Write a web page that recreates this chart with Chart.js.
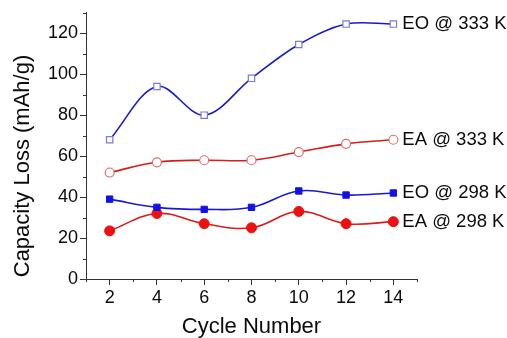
<!DOCTYPE html>
<html>
<head>
<meta charset="utf-8">
<script src="https://cdn.jsdelivr.net/npm/chart.js@4"></script>
<style>
  html, body { margin: 0; padding: 0; background: #fff; }
  #wrap { width: 507px; height: 338px; }
</style>
</head>
<body>
<div id="wrap"><canvas id="lossChart" width="507" height="338"></canvas></div>
<script>
// cycle numbers and capacity loss (mAh/g)
var cycles = [2, 4, 6, 8, 10, 12, 14];
var eo333 = [68, 94, 80, 98, 114.5, 124.5, 124.5];
var ea333 = [52, 57, 58, 58, 62, 66, 68];
var eo298 = [39, 35, 34, 35, 43, 41, 42];
var ea298 = [23.5, 32, 27, 25, 33, 27, 28];
var seriesNames = ['EO @ 333 K', 'EA @ 333 K', 'EO @ 298 K', 'EA @ 298 K'];

var xMajor = [2, 4, 6, 8, 10, 12, 14];
var xMinor = [1, 3, 5, 7, 9, 11, 13, 15];
var yMajor = [0, 20, 40, 60, 80, 100, 120];
var yMinor = [10, 30, 50, 70, 90, 110, 130];

var FONT = "'Liberation Sans', Arial, sans-serif";

function pts(ys) {
  return cycles.map(function (c, i) { return { x: c, y: ys[i] }; });
}

// minor ticks, axis titles and end-of-line labels
var extras = {
  id: 'extras',
  afterDraw: function (chart) {
    var ctx = chart.ctx, xs = chart.scales.x, ys = chart.scales.y, a = chart.chartArea;
    ctx.save();
    ctx.strokeStyle = '#333';
    ctx.lineWidth = 1;
    ctx.beginPath();
    xMinor.forEach(function (v) {
      var px = Math.round(xs.getPixelForValue(v)) + 0.5;
      ctx.moveTo(px, a.bottom); ctx.lineTo(px, a.bottom + 3);
    });
    yMinor.forEach(function (v) {
      var py = Math.round(ys.getPixelForValue(v)) + 0.5;
      ctx.moveTo(a.left, py); ctx.lineTo(a.left - 3, py);
    });
    ctx.stroke();

    ctx.fillStyle = '#0a0a0a';
    ctx.font = '18.5px ' + FONT;
    ctx.textBaseline = 'middle';
    ctx.textAlign = 'left';
    chart.data.datasets.forEach(function (ds, i) {
      var last = ds.data[ds.data.length - 1];
      ctx.fillText(seriesNames[i], xs.getPixelForValue(last.x) + 9, ys.getPixelForValue(last.y));
    });

    ctx.font = '22px ' + FONT;
    ctx.textAlign = 'center';
    ctx.fillText('Cycle Number', (a.left + a.right) / 2, 327);
    ctx.translate(23, 166);
    ctx.rotate(-Math.PI / 2);
    ctx.fillText('Capacity Loss (mAh/g)', 0, 0);
    ctx.restore();
  }
};

var blue = '#1a1acc', red = '#d81c1c';

new Chart(document.getElementById('lossChart'), {
  type: 'line',
  data: {
    datasets: [
      { label: seriesNames[0], data: pts(eo333), borderColor: blue, borderWidth: 1.6, tension: 0.35,
        pointStyle: 'rect', pointRadius: 4.5, pointBackgroundColor: '#fff', pointBorderColor: '#7b7bd6', pointBorderWidth: 1.2 },
      { label: seriesNames[1], data: pts(ea333), borderColor: red, borderWidth: 1.6, tension: 0.4,
        pointStyle: 'circle', pointRadius: 4.5, pointBackgroundColor: '#fff', pointBorderColor: '#d77070', pointBorderWidth: 1.2 },
      { label: seriesNames[2], data: pts(eo298), borderColor: blue, borderWidth: 1.6, tension: 0.4,
        pointStyle: 'rect', pointRadius: 4.5, pointBackgroundColor: '#1010e8', pointBorderColor: '#1010e8', pointBorderWidth: 1 },
      { label: seriesNames[3], data: pts(ea298), borderColor: red, borderWidth: 1.6, tension: 0.4,
        pointStyle: 'circle', pointRadius: 5, pointBackgroundColor: '#ec1010', pointBorderColor: '#ec1010', pointBorderWidth: 1 }
    ]
  },
  options: {
    responsive: false,
    animation: false,
    layout: { padding: { top: 12, right: 90, left: 0, bottom: 0 } },
    plugins: { legend: { display: false }, tooltip: { enabled: false } },
    scales: {
      x: {
        type: 'linear', min: 1, max: 15,
        afterBuildTicks: function (s) { s.ticks = xMajor.map(function (v) { return { value: v }; }); },
        afterFit: function (s) { s.height = 59; },
        grid: { drawOnChartArea: false, tickLength: 6, color: '#333' },
        border: { color: '#333', width: 1 },
        ticks: { color: '#0a0a0a', padding: 2, maxRotation: 0, font: { family: FONT, size: 18 } }
      },
      y: {
        min: 0, max: 130,
        afterBuildTicks: function (s) { s.ticks = yMajor.map(function (v) { return { value: v }; }); },
        afterFit: function (s) { s.width = 86; },
        grid: { drawOnChartArea: false, tickLength: 6, color: '#333' },
        border: { color: '#333', width: 1 },
        ticks: { color: '#0a0a0a', padding: 2, font: { family: FONT, size: 18 } }
      }
    }
  },
  plugins: [extras]
});
</script>
</body>
</html>
